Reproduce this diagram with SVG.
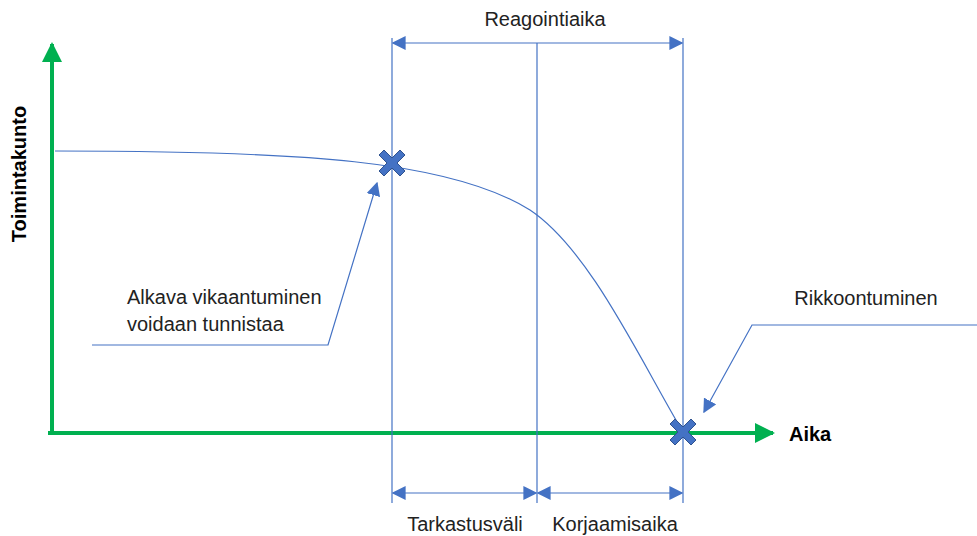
<svg xmlns="http://www.w3.org/2000/svg" xmlns:xlink="http://www.w3.org/1999/xlink" width="977" height="536" viewBox="0 0 977 536">
<style>
.t{font-family:"Liberation Sans",Arial,sans-serif;font-size:20px;fill:#222}
.b{font-family:"Liberation Sans",Arial,sans-serif;font-size:20px;font-weight:bold;fill:#000}
.bl{stroke:#4472C4;stroke-width:1.2;fill:none}
.ax{stroke:#00B050;stroke-width:4;fill:none}
</style>
<defs>
<marker id="ab" viewBox="0 0 10 10" refX="9" refY="5" markerWidth="14" markerHeight="14" markerUnits="userSpaceOnUse" orient="auto-start-reverse"><path d="M0,0L10,5L0,10z" fill="#4472C4"/></marker>
<marker id="ag" viewBox="0 0 10 10" refX="9" refY="5" markerWidth="5" markerHeight="5" orient="auto"><path d="M0,0L10,5L0,10z" fill="#00B050"/></marker>
<path id="x" d="M-8,-13L0,-5L8,-13L13,-8L5,0L13,8L8,13L0,5L-8,13L-13,8L-5,0L-13,-8z" fill="#4472C4" stroke="#2F528F" stroke-width="1"/>
</defs>
<g id="axes">
<line class="ax" x1="52" y1="435" x2="52" y2="44" marker-end="url(#ag)"/>
<line class="ax" x1="48" y1="433" x2="773" y2="433" marker-end="url(#ag)"/>
</g>
<g id="connectors">
<line class="bl" x1="392" y1="38" x2="392" y2="503"/>
<line class="bl" x1="537" y1="43" x2="537" y2="503"/>
<line class="bl" x1="683" y1="38" x2="683" y2="503"/>
<line class="bl" x1="393" y1="43" x2="682" y2="43" marker-start="url(#ab)" marker-end="url(#ab)"/>
<line class="bl" x1="393" y1="493" x2="536" y2="493" marker-start="url(#ab)" marker-end="url(#ab)"/>
<line class="bl" x1="538" y1="493" x2="682" y2="493" marker-start="url(#ab)" marker-end="url(#ab)"/>
<path class="bl" d="M55,151 C300,151 450,160 530,210 C590,250 640,360 683,432"/>
<polyline class="bl" points="92,345 328,345 377,183" marker-end="url(#ab)"/>
<polyline class="bl" points="977,325 752,325 704,412" marker-end="url(#ab)"/>
</g>
<g id="markers">
<use xlink:href="#x" x="392" y="163"/>
<use xlink:href="#x" x="683" y="432"/>
</g>
<g id="labels">
<text class="t" x="545" y="26" text-anchor="middle">Reagointiaika</text>
<text class="t" x="465" y="531" text-anchor="middle">Tarkastusväli</text>
<text class="t" x="615" y="531" text-anchor="middle">Korjaamisaika</text>
<text class="t" x="127" y="304">Alkava vikaantuminen</text>
<text class="t" x="127" y="331">voidaan tunnistaa</text>
<text class="t" x="866" y="305" text-anchor="middle">Rikkoontuminen</text>
<text class="b" x="789" y="441">Aika</text>
<text class="b" transform="translate(26,174) rotate(-90)" text-anchor="middle">Toimintakunto</text>
</g>
</svg>
